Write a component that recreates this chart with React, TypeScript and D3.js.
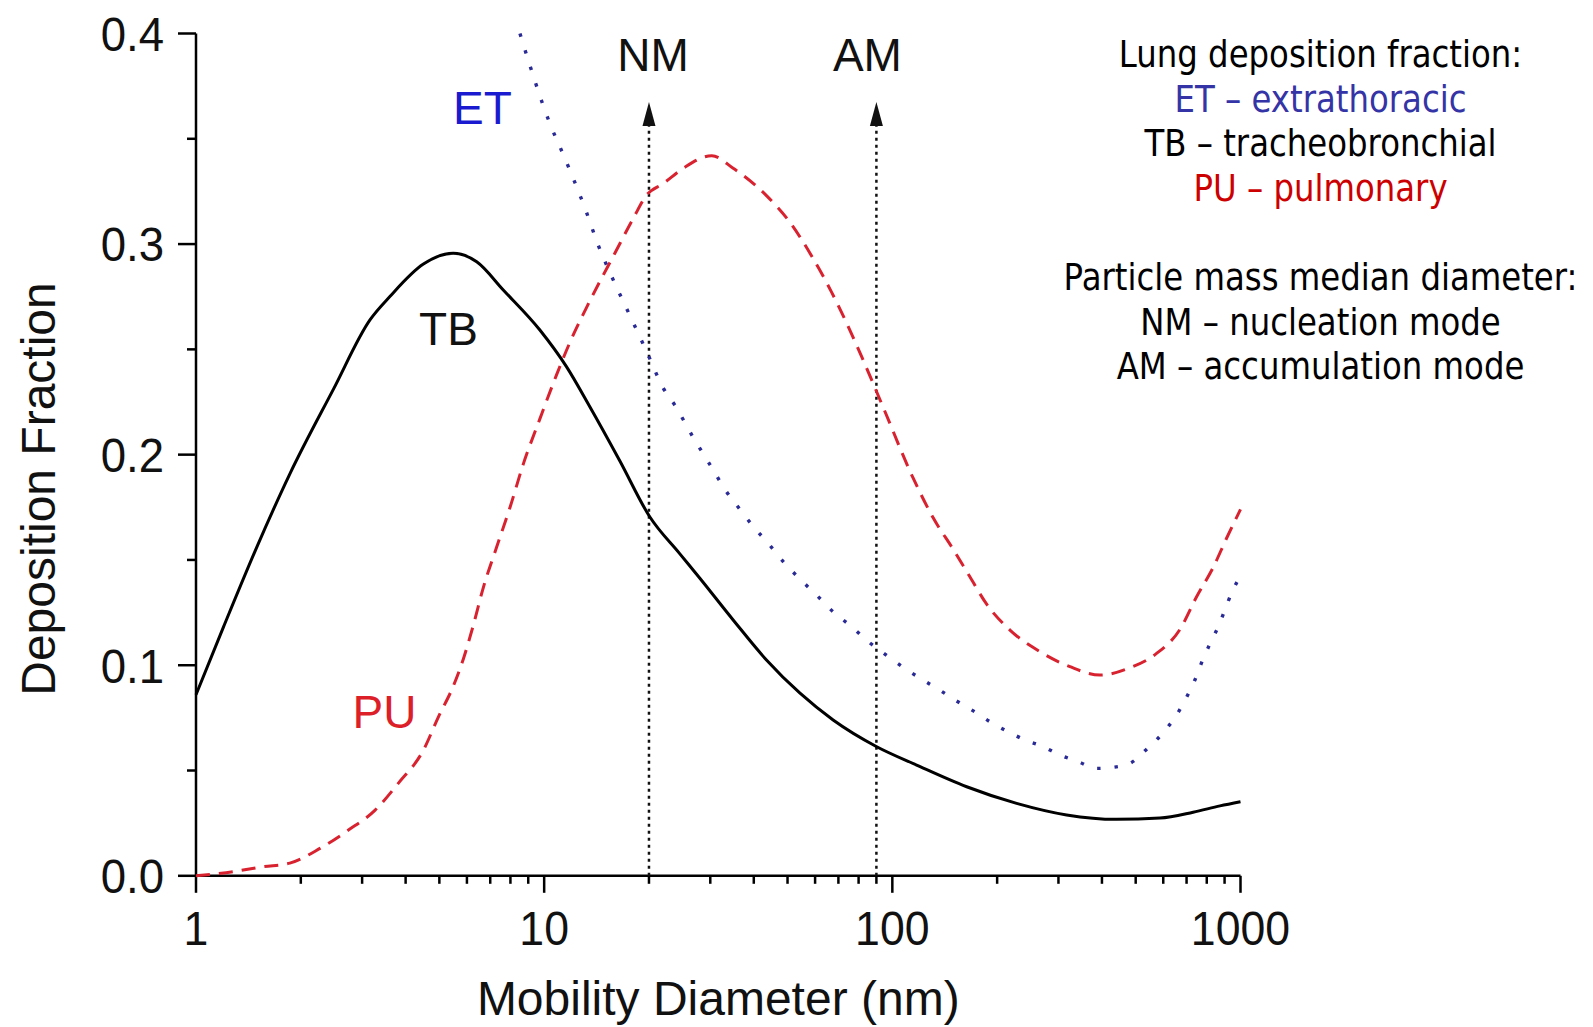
import React from "react";
import * as d3 from "d3";

// ---- data ----
const tbDiameter = [1, 1.198, 1.494, 1.862, 2.48, 3.16, 3.61, 4.5, 5.48, 6.4, 7.63, 9.72, 11.6, 13.5, 16.5, 20.1, 24.5, 28, 34.9, 43.5, 54.3, 67.6, 90.2, 117.4, 163.5, 227.5, 316.7, 440, 587, 731, 873, 1000];
const tbFraction = [0.086, 0.118, 0.156, 0.191, 0.231, 0.264, 0.2752, 0.2905, 0.2956, 0.2916, 0.2782, 0.2592, 0.2417, 0.223, 0.197, 0.1705, 0.153, 0.1413, 0.1215, 0.1025, 0.0867, 0.074, 0.0613, 0.0526, 0.0423, 0.0344, 0.0289, 0.0268, 0.0274, 0.0302, 0.0332, 0.0352];

const puDiameter = [1, 1.28, 1.56, 1.86, 2.27, 2.74, 3.27, 3.81, 4.5, 4.97, 5.48, 5.86, 6.26, 6.69, 7.3, 7.98, 8.71, 9.72, 10.86, 11.87, 13.2, 16, 18, 19.7, 22, 25.1, 30.3, 34.9, 43.5, 51.4, 58.7, 66.9, 73.9, 82.5, 94, 114.8, 131, 149.6, 167, 186.6, 217.7, 265.5, 323.7, 394.6, 476, 574, 670, 748, 835, 912, 1000];
const puFraction = [0, 0.002, 0.0043, 0.006, 0.013, 0.0217, 0.0312, 0.0439, 0.0597, 0.0755, 0.09, 0.103, 0.119, 0.137, 0.156, 0.175, 0.1955, 0.217, 0.238, 0.2535, 0.2695, 0.296, 0.312, 0.3233, 0.3288, 0.336, 0.342, 0.336, 0.323, 0.3092, 0.2942, 0.2772, 0.2625, 0.2448, 0.2227, 0.1888, 0.17, 0.155, 0.142, 0.129, 0.1167, 0.1064, 0.0993, 0.0953, 0.0985, 0.1056, 0.117, 0.1325, 0.1465, 0.1603, 0.174];

const etDiameter = [8.52, 10.4, 11.47, 13.1, 14.3, 15.8, 17.6, 19.7, 22, 23.7, 26.9, 30, 33.4, 36.5, 39.9, 44, 48.6, 54.3, 60.6, 67.6, 76.4, 85.3, 95.2, 107.5, 121.3, 135.5, 152.3, 170.8, 192.8, 215.2, 240.3, 271.2, 302.8, 341.7, 384.6, 429.3, 481, 537.6, 599.7, 655.4, 700, 739.6, 773, 816.6, 863, 902, 943, 1000];
const etFraction = [0.4, 0.357, 0.3407, 0.317, 0.2995, 0.2829, 0.2663, 0.2489, 0.2315, 0.2236, 0.2077, 0.195, 0.1824, 0.174, 0.1658, 0.1579, 0.1492, 0.1409, 0.1333, 0.1254, 0.1183, 0.1112, 0.1053, 0.099, 0.0934, 0.0886, 0.0832, 0.0783, 0.0727, 0.0684, 0.0645, 0.0613, 0.0574, 0.0542, 0.051, 0.0515, 0.0534, 0.0601, 0.068, 0.0764, 0.0848, 0.093, 0.1012, 0.1101, 0.1183, 0.1262, 0.1344, 0.1424];

const yTickValues = [0, 0.1, 0.2, 0.3, 0.4];
const yTickLabels = ["0.0", "0.1", "0.2", "0.3", "0.4"];
const yMinorValues = [0.05, 0.15, 0.25, 0.35];
const xTickValues = [1, 10, 100, 1000];
const xTickLabels = ["1", "10", "100", "1000"];

const modeNames = ["NM", "AM"];
const modeDiameters = [20, 90];

const legendLines = [
  "Lung deposition fraction:",
  "ET \u2013 extrathoracic",
  "TB \u2013 tracheobronchial",
  "PU \u2013 pulmonary",
  "",
  "Particle mass median diameter:",
  "NM \u2013 nucleation mode",
  "AM \u2013 accumulation mode",
];

// ---- layout ----
const W = 1593;
const H = 1027;
const X0 = 196;
const X1 = 1240.5;
const Y0 = 875.8;
const Y1 = 33.5;
const AXIS_FONT = "'Liberation Sans', Arial, Helvetica, sans-serif";
const LEGEND_FONT = "'DejaVu Sans', Verdana, sans-serif";

export default function App() {
  const x = d3.scaleLog().domain([1, 1000]).range([X0, X1]);
  const y = d3.scaleLinear().domain([0, 0.4]).range([Y0, Y1]);

  const line = d3
    .line<[number, number]>()
    .x((d) => x(d[0]))
    .y((d) => y(d[1]))
    .curve(d3.curveMonotoneX);

  const zip = (a: number[], b: number[]) => a.map((v, i) => [v, b[i]] as [number, number]);
  const tbPath = line(zip(tbDiameter, tbFraction)) || "";
  const puPath = line(zip(puDiameter, puFraction)) || "";
  const etPath = line(zip(etDiameter, etFraction)) || "";

  const xMinor: number[] = [];
  for (const dec of [1, 10, 100]) for (let k = 2; k <= 9; k++) xMinor.push(dec * k);

  const legendColors = ["#000", "#3434a6", "#000", "#cc0000", "#000", "#000", "#000", "#000"];

  return (
    <svg
      width={W}
      height={H}
      viewBox={`0 0 ${W} ${H}`}
      style={{ position: "absolute", left: 0, top: 0, background: "#fff" }}
    >
      <rect x={0} y={0} width={W} height={H} fill="#fff" />

      {/* axes */}
      <g stroke="#000" strokeWidth={2.5} fill="none">
        <line x1={X0} y1={y(0.4)} x2={X0} y2={Y0} />
        <line x1={X0} y1={Y0} x2={x(1000)} y2={Y0} />
        {yTickValues.map((v) => (
          <line key={"yt" + v} x1={X0 - 18} x2={X0} y1={y(v)} y2={y(v)} />
        ))}
        {yMinorValues.map((v) => (
          <line key={"ym" + v} x1={X0 - 9} x2={X0} y1={y(v)} y2={y(v)} />
        ))}
        {xTickValues.map((v) => (
          <line key={"xt" + v} x1={x(v)} x2={x(v)} y1={Y0} y2={Y0 + 17} />
        ))}
        {xMinor.map((v) => (
          <line key={"xm" + v} x1={x(v)} x2={x(v)} y1={Y0} y2={Y0 + 8} />
        ))}
      </g>

      <g fontFamily={AXIS_FONT} fontSize={48} fill="#111">
        {yTickValues.map((v, i) => (
          <text
            key={"yl" + v}
            transform={`translate(${X0 - 32},${y(v)}) scale(0.95,1)`}
            dy="0.36em"
            textAnchor="end"
          >
            {yTickLabels[i]}
          </text>
        ))}
        {xTickValues.map((v, i) => (
          <text
            key={"xl" + v}
            transform={`translate(${x(v)},${Y0 + 69}) scale(0.93,1)`}
            textAnchor="middle"
          >
            {xTickLabels[i]}
          </text>
        ))}
      </g>

      <text
        x={(X0 + X1) / 2}
        y={1015}
        textAnchor="middle"
        fontFamily={AXIS_FONT}
        fontSize={48}
        fill="#111"
      >
        Mobility Diameter (nm)
      </text>
      <text
        transform={`translate(55,489) rotate(-90)`}
        textAnchor="middle"
        fontFamily={AXIS_FONT}
        fontSize={48}
        fill="#111"
      >
        Deposition Fraction
      </text>

      {/* mode markers */}
      {modeDiameters.map((d, i) => {
        const cx = x(d);
        return (
          <g key={"mode" + i}>
            <line
              x1={cx}
              x2={cx}
              y1={Y0}
              y2={124}
              stroke="#111"
              strokeWidth={2.5}
              strokeDasharray="3 4"
            />
            <path d={`M${cx},102 L${cx - 6.5},126 L${cx + 6.5},126 Z`} fill="#111" />
            <text
              x={cx + (i === 0 ? 4 : -9)}
              y={71}
              textAnchor="middle"
              fontFamily={AXIS_FONT}
              fontSize={46}
              fill="#111"
            >
              {modeNames[i]}
            </text>
          </g>
        );
      })}

      {/* curves */}
      <path d={etPath} fill="none" stroke="#2a2a96" strokeWidth={3.4} strokeDasharray="3.4 14" />
      <path d={puPath} fill="none" stroke="#d8222f" strokeWidth={3} strokeDasharray="14 9" />
      <path d={tbPath} fill="none" stroke="#000" strokeWidth={3} />

      {/* curve labels */}
      <g fontFamily={AXIS_FONT} fontSize={46} textAnchor="middle">
        <text x={482.5} y={124} fill="#1a1ad0">ET</text>
        <text x={448.5} y={345} fill="#111">TB</text>
        <text x={384.5} y={728} fill="#dd1f2a">PU</text>
      </g>

      {/* legend text */}
      <g transform="translate(1320.5,0) scale(0.887,1)" fontFamily={LEGEND_FONT} fontSize={36.5} textAnchor="middle">
        {legendLines.map((t, i) =>
          t ? (
            <text key={"lg" + i} x={0} y={67 + 44.6 * i} fill={legendColors[i]}>
              {t}
            </text>
          ) : null
        )}
      </g>
    </svg>
  );
}
